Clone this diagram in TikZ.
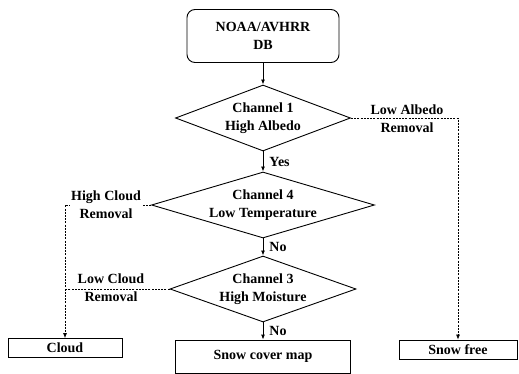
\documentclass[tikz,border=0pt]{standalone}
\usepackage{fontspec}
\setmainfont{Liberation Serif}
\usetikzlibrary{shapes.geometric, arrows.meta, positioning}

\begin{document}
\begin{tikzpicture}[
  x=1pt, y=-1pt,
  every node/.style={font=\fontsize{14}{18}\selectfont\bfseries},
  dbnode/.style={rectangle, draw, rounded corners=8pt, minimum width=152pt, minimum height=53pt, align=center, line width=0.9pt},
  decision/.style={diamond, draw, inner sep=0pt, minimum height=66pt, align=center, line width=0.9pt},
  outbox/.style={rectangle, draw, minimum height=19pt, inner sep=1pt, line width=0.8pt},
  arr/.style={-{Latex[length=5pt, width=4pt]}, line width=0.9pt},
  side/.style={line width=0.7pt, dash pattern=on 2pt off 1.2pt},
  lbl/.style={align=center, inner sep=1pt},
]
  \useasboundingbox (0,0) rectangle (519,374);

  % Input database (top)
  \node[dbnode] (db) at (263,36) {NOAA/AVHRR\\DB};

  % Channel tests
  \node[decision, minimum width=175pt, aspect=2.6] (ch1) at (263,118) {Channel 1\\High Albedo};
  \node[decision, minimum width=223pt, aspect=3.4] (ch4) at (263,205) {Channel 4\\Low Temperature};
  \node[decision, minimum width=186pt, aspect=2.8] (ch3) at (263,289) {Channel 3\\High Moisture};

  % Outputs (bottom)
  \node[outbox, minimum width=114pt] (cloud) at (65,348) {Cloud};
  \node[outbox, minimum width=175pt, minimum height=33pt] (map) at (263,356.5) {Snow cover map};
  \node[outbox, minimum width=118pt] (free) at (458,349.5) {Snow free};

  % Main flow
  \draw[arr] (db) -- (ch1);
  \draw[arr] (ch1) -- node[lbl, right=5pt] (yes) {Yes} (ch4);
  \draw[arr] (ch4) -- node[lbl, right=5pt] (no1) {No} (ch3);
  \draw[arr] (ch3) -- node[lbl, right=5pt] (no2) {No} (map);

  % Removal branches
  \draw[arr, side] (ch1.east) -| (free.north);
  \draw[arr, side] (ch4.west) -| (cloud.north);
  \draw[side] (ch3.west) -- (ch3.west -| cloud.north);

  \node[lbl] (albedo) at (407,119) {Low Albedo\\Removal};
  \node[lbl, fill=white] (hicloud) at (106,205) {High Cloud\\Removal};
  \node[lbl] (locloud) at (111,288) {Low Cloud\\Removal};
\end{tikzpicture}
\end{document}
